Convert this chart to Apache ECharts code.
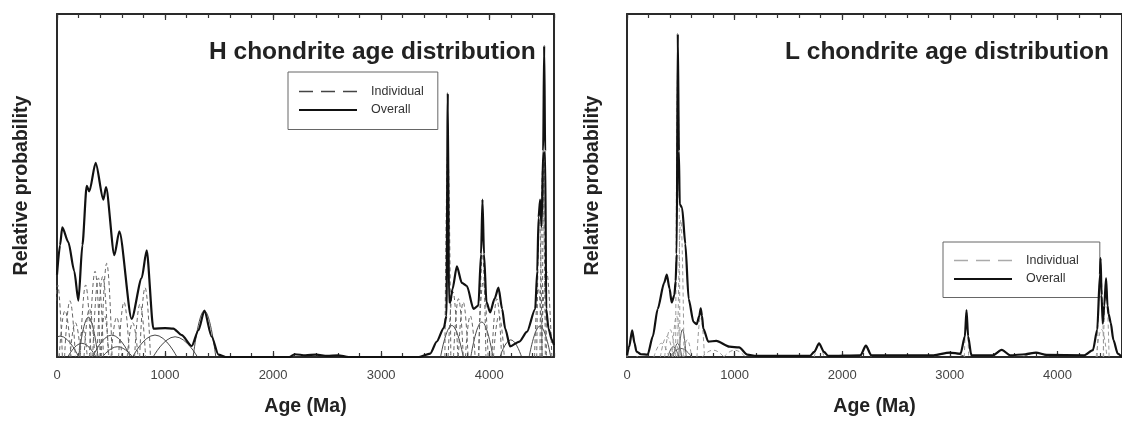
<!DOCTYPE html>
<html>
<head>
<meta charset="utf-8">
<script src="https://cdn.jsdelivr.net/npm/echarts@6/dist/echarts.min.js"></script>
<style>
  html, body { margin: 0; padding: 0; background: #fff; }
  #chart { width: 1122px; height: 422px; }
</style>
</head>
<body>
<div id="chart"></div>
<script>
// x axis ticks (Ma)
const ageTicks = [0, 1000, 2000, 3000, 4000];
const legendNames = ['Individual', 'Overall'];

// H chondrites: summed probability curve, [age Ma, relative probability]
const hOverall = [
  [0, 24], [28, 32.6], [49, 37.8], [105, 33.5], [160, 25], [198, 16.4], [235, 32.6],
  [275, 49.9], [299, 48.3], [358, 56.6], [429, 45.9], [454, 49.5], [531, 29.7],
  [577, 36.6], [691, 11.1], [784, 23], [830, 31.1], [892, 8.3], [1000, 8.4], [1077, 8.3],
  [1154, 6.4], [1247, 3.2], [1309, 7.8], [1364, 13.5], [1432, 5.9], [1494, 0.7],
  [1560, 0], [2150, 0], [2200, 0.8], [2300, 0.5], [2400, 0.7], [2500, 0.3], [2600, 0.5],
  [2700, 0], [3350, 0], [3454, 1], [3515, 4.5], [3580, 8.5], [3605, 12], [3617, 76.9],
  [3628, 16], [3639, 15.9], [3660, 19.7], [3701, 26.4], [3747, 21.6], [3794, 20.7],
  [3855, 14], [3900, 15], [3925, 30], [3938, 45.9], [3952, 30], [3975, 16], [4009, 13],
  [4050, 17], [4086, 20.2], [4120, 14], [4148, 8.3], [4194, 3.1], [4280, 4.5],
  [4349, 7.3], [4426, 14], [4445, 25], [4457, 40.7], [4472, 45.9], [4485, 38],
  [4500, 60], [4509, 90.7], [4518, 60], [4528, 14], [4549, 8.3], [4580, 5], [4600, 3.5]
];
// H chondrites: individual ages, [left foot, peak age, peak value, right foot]
const hDashed = [
  [-30, 6, 21, 50], [20, 74, 13.5, 130], [70, 120, 16.4, 170], [120, 170, 10, 220],
  [200, 240, 8, 280], [215, 265, 21, 315], [250, 300, 14, 350], [300, 352, 25, 400],
  [330, 383, 23, 430], [370, 423, 23.5, 475], [400, 440, 12, 480], [410, 460, 27.3, 510],
  [500, 552, 11.6, 600], [570, 620, 16, 670], [650, 700, 10, 750], [718, 768, 15.4, 820],
  [765, 815, 20.2, 865], [3590, 3617, 60, 3645], [3620, 3665, 19, 3710],
  [3670, 3716, 17, 3760], [3715, 3760, 16, 3805], [3780, 3825, 12, 3870],
  [3905, 3938, 30, 3970], [3900, 3945, 22, 3990], [4025, 4071, 17, 4115],
  [4040, 4090, 12, 4140], [4420, 4455, 20, 4490], [4440, 4465, 40, 4490],
  [4470, 4495, 55, 4520], [4490, 4510, 60, 4530], [4480, 4530, 25, 4580]
];
const hThin = [
  [-150, 28, 6.1, 200], [100, 230, 4, 360], [200, 290, 11.6, 380], [330, 506, 6.4, 680],
  [420, 560, 3, 700], [700, 907, 6.4, 1110], [890, 1093, 5.9, 1300], [1260, 1364, 13.5, 1470],
  [3550, 3654, 9.2, 3760], [3830, 3932, 10.2, 4035], [4100, 4200, 5, 4300], [4370, 4470, 9, 4570]
];

// L chondrites: summed probability curve
const lOverall = [
  [0, 0.5], [20, 3], [48, 7.8], [70, 4], [88, 1.6], [130, 0.8], [192, 0.7], [240, 6],
  [285, 14], [345, 21.6], [370, 24], [395, 20], [415, 15.9], [440, 18], [452, 22.1],
  [462, 30], [472, 94.2], [482, 60], [490, 44.5], [512, 43.5], [542, 33], [573, 16.9],
  [618, 10.2], [648, 9.6], [672, 12], [685, 14.2], [697, 12], [709, 8.3], [755, 4.5],
  [830, 4.7], [952, 3], [1042, 2.8], [1118, 0.7], [1200, 0.3], [1700, 0.3], [1740, 1.5],
  [1785, 4], [1830, 1.5], [1870, 0.3], [2170, 0.5], [2220, 3.3], [2270, 0.5], [2850, 0.5],
  [2997, 1.3], [3100, 1], [3140, 6], [3155, 13.7], [3170, 6], [3200, 0.5], [3400, 0.5],
  [3482, 2.1], [3560, 0.5], [3700, 0.8], [3800, 1.3], [3900, 0.6], [4250, 0.5],
  [4330, 2], [4370, 8], [4395, 24], [4401, 28.8], [4410, 18], [4421, 9.7], [4435, 15],
  [4452, 23], [4465, 15], [4475, 12.6], [4495, 10], [4520, 5], [4560, 1], [4600, 0]
];
// L chondrites: individual ages
const lDashed = [
  [0, 48, 6, 95], [250, 320, 4, 390], [310, 370, 6, 430], [350, 400, 8, 450],
  [420, 460, 12, 500], [452, 472, 85, 492], [470, 500, 40, 530], [520, 560, 5, 600],
  [650, 685, 12, 720], [700, 800, 2, 900], [900, 1000, 2, 1100], [1740, 1785, 3.5, 1830],
  [2170, 2220, 3, 2270], [3135, 3155, 12, 3175], [4370, 4401, 25, 4430],
  [4425, 4452, 20, 4480], [4360, 4410, 8, 4460]
];
const lThin = [
  [380, 430, 3, 480], [430, 470, 4, 510], [480, 515, 8, 550], [400, 500, 2.5, 600],
  [2850, 3000, 1.2, 3150], [3400, 3482, 2, 3560], [3680, 3800, 1.2, 3920]
];

const chart = echarts.init(document.getElementById('chart'));

const frameColor = '#2a2a2a';
const font = 'Liberation Sans, Arial, Helvetica, sans-serif';

function xAxes(grid) {
  const base = { gridIndex: grid, type: 'value', min: 0, max: 4600, splitLine: { show: false } };
  const tick = { lineStyle: { color: '#333', width: 1.2 } };
  return [
    Object.assign({}, base, {
      position: 'bottom', interval: 1000,
      name: 'Age (Ma)', nameLocation: 'middle', nameGap: 40,
      nameTextStyle: { fontFamily: font, fontWeight: 'bold', fontSize: 19.5, color: '#222' },
      axisLine: { onZero: false, lineStyle: { color: frameColor, width: 2 } },
      axisTick: Object.assign({ inside: true, length: 6 }, tick),
      axisLabel: {
        showMaxLabel: false, margin: 12, fontSize: 13, color: '#444', fontFamily: font,
        formatter: v => (ageTicks.indexOf(v) > -1 ? String(v) : '')
      }
    }),
    Object.assign({}, base, {
      position: 'bottom', interval: 200,
      axisLine: { show: false, onZero: false },
      axisTick: Object.assign({ inside: true, length: 4 }, tick),
      axisLabel: { show: false }
    }),
    Object.assign({}, base, {
      position: 'top', interval: 1000,
      axisLine: { onZero: false, lineStyle: { color: frameColor, width: 2 } },
      axisTick: Object.assign({ inside: true, length: 6 }, tick),
      axisLabel: { show: false }
    }),
    Object.assign({}, base, {
      position: 'top', interval: 200,
      axisLine: { show: false, onZero: false },
      axisTick: Object.assign({ inside: true, length: 4 }, tick),
      axisLabel: { show: false }
    })
  ];
}

function yAxes(grid, gap) {
  const base = {
    gridIndex: grid, type: 'value', min: 0, max: 100,
    splitLine: { show: false }, axisTick: { show: false }, axisLabel: { show: false },
    axisLine: { show: true, onZero: false, lineStyle: { color: frameColor, width: 2 } }
  };
  return [
    Object.assign({}, base, {
      position: 'left', name: 'Relative probability', nameLocation: 'middle', nameGap: gap,
      nameTextStyle: { fontFamily: font, fontWeight: 'bold', fontSize: 19.5, color: '#222' }
    }),
    Object.assign({}, base, { position: 'right' })
  ];
}

function peakSeries(list, xi, yi, lineStyle) {
  return list.map(p => ({
    type: 'line', name: 'Individual', xAxisIndex: xi, yAxisIndex: yi,
    data: [[p[0], 0], [p[1], p[2]], [p[3], 0]],
    smooth: 0.5, symbol: 'none', silent: true, z: 2,
    lineStyle: lineStyle
  }));
}

function overallSeries(data, xi, yi) {
  return {
    type: 'line', name: 'Overall', xAxisIndex: xi, yAxisIndex: yi,
    data: data, smooth: 0.25, smoothMonotone: 'x', symbol: 'none', silent: true, z: 5,
    lineStyle: { color: '#111', width: 2.2 }
  };
}

const hDash = { color: '#666', width: 1, type: [4, 3] };
const hSolid = { color: '#333', width: 0.9 };
const lDash = { color: '#999', width: 1, type: [4, 3] };
const lSolid = { color: '#444', width: 0.9 };

function legendBox(left, top, pad, dashColor) {
  return {
    left: left, top: top, orient: 'vertical',
    padding: pad, borderColor: '#666', borderWidth: 1,
    itemWidth: 58, itemHeight: 12, itemGap: 5.5,
    selectedMode: false,
    itemStyle: { color: 'rgba(0,0,0,0)', borderWidth: 0 },
    textStyle: { fontFamily: font, fontSize: 12.5, color: '#333', padding: [0, 0, 0, 9] },
    data: [
      { name: legendNames[0], lineStyle: { color: dashColor, width: 1.5, type: [14, 8] } },
      { name: legendNames[1], lineStyle: { color: '#111', width: 2, type: 'solid' } }
    ]
  };
}

const option = {
  animation: false,
  backgroundColor: '#fff',
  title: [
    { text: 'H chondrite age distribution', left: 204, top: 35,
      textStyle: { fontFamily: font, fontWeight: 'bold', fontSize: 24.5, color: '#222' } },
    { text: 'L chondrite age distribution', left: 780, top: 35,
      textStyle: { fontFamily: font, fontWeight: 'bold', fontSize: 24.5, color: '#222' } }
  ],
  legend: [
    legendBox(288, 72, [13, 14, 13, 10], '#444'),
    legendBox(943, 242, [12, 21, 12, 10], '#aaa')
  ],
  grid: [
    { left: 57, right: 568, top: 14, bottom: 58 },
    { left: 627, right: -11, top: 14, bottom: 58 }
  ],
  xAxis: xAxes(0).concat(xAxes(1)),
  yAxis: yAxes(0, 25).concat(yAxes(1, 24)),
  series: []
    .concat(peakSeries(hThin, 0, 0, hSolid))
    .concat(peakSeries(hDashed, 0, 0, hDash))
    .concat([overallSeries(hOverall, 0, 0)])
    .concat(peakSeries(lThin, 4, 2, lSolid))
    .concat(peakSeries(lDashed, 4, 2, lDash))
    .concat([overallSeries(lOverall, 4, 2)])
};

chart.setOption(option);
</script>
</body>
</html>
